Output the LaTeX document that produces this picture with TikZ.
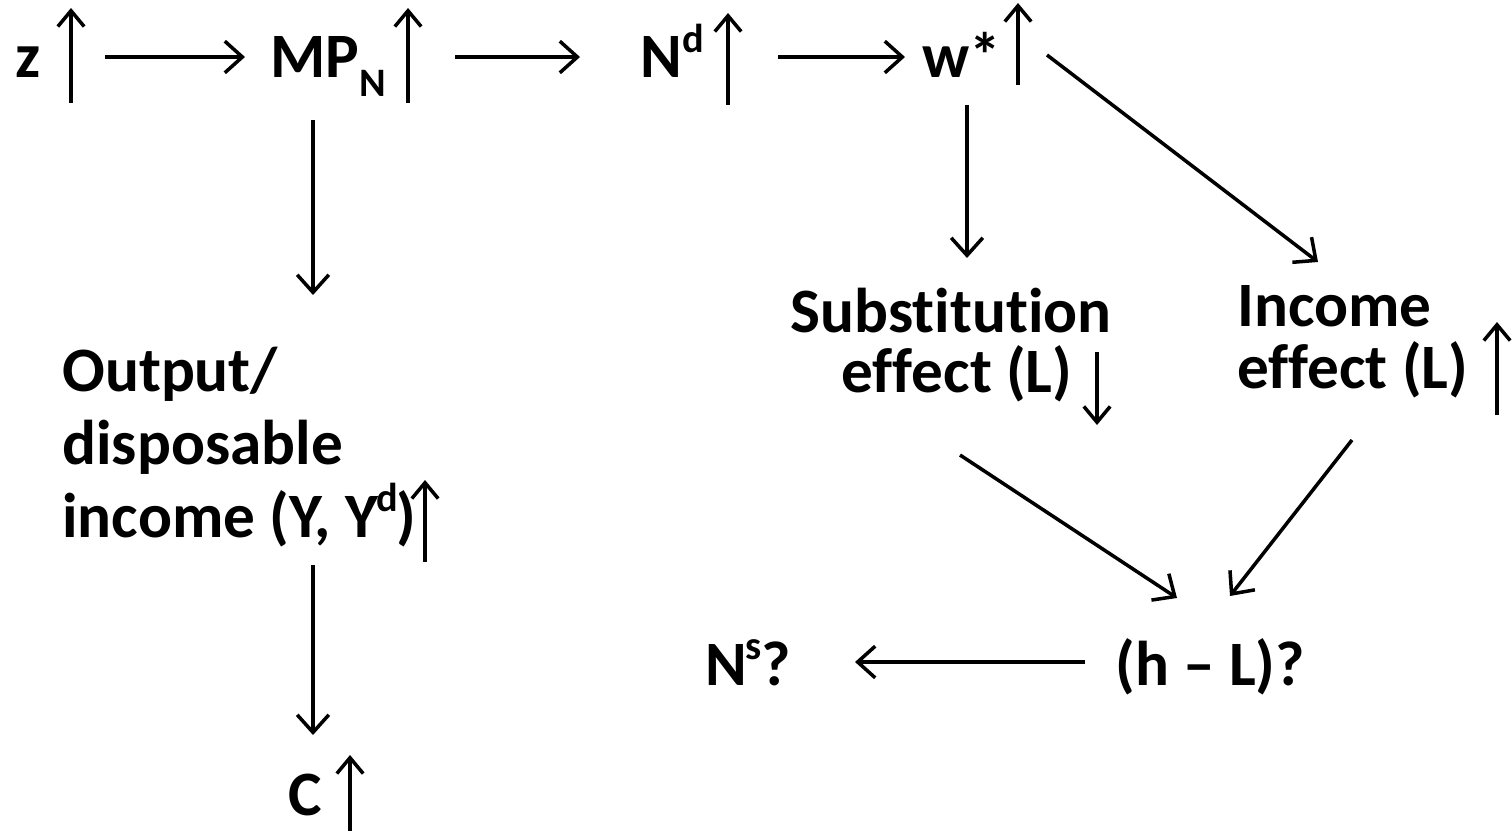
\documentclass[tikz,border=0pt]{standalone}
\usepackage{fontspec}
\setmainfont{Carlito}[Ligatures=NoCommon]
\usetikzlibrary{arrows.meta}
\newcommand\mysup[1]{\raisebox{0.4em}{\fontsize{23}{23}\selectfont #1}}
\newcommand\mysub[1]{\raisebox{-0.3em}{\fontsize{23}{23}\selectfont #1}}
\begin{document}
\begin{tikzpicture}[x=0.02cm,y=-0.02cm,
  lbl/.style={anchor=base west,inner sep=0,font=\fontsize{36}{42}\selectfont\bfseries},
  conn/.style={line width=2pt,-{Straight Barb[length=10pt,width=18pt,line width=2pt]}},
  ind/.style={line width=2pt,-{Straight Barb[length=9pt,width=15pt,line width=2pt]}}]
\useasboundingbox (0,0) rectangle (1512,831);
% text nodes
\node[lbl] (z) at (15,78) {z};
\node[lbl] (mp) at (270,78) {MP\mysub{N}};
\node[lbl] (nd) at (640,78) {N\mysup{d}};
\node[lbl] (w) at (922,78) {w*};
\node[lbl] (out1) at (62,392) {Output/};
\node[lbl] (out2) at (62,464) {disposable};
\node[lbl] (out3) at (62,537) {income (Y, Y\kern-1pt\mysup{d}\kern-1pt)};
\node[lbl] (c) at (288,815) {C};
\node[lbl,anchor=base] (sub1) at (951,333) {Substitution};
\node[lbl,anchor=base] (sub2) at (957,393) {effect (L)};
\node[lbl] (inc1) at (1237,327) {Income};
\node[lbl] (inc2) at (1237,388) {effect (L)};
\node[lbl] (ns) at (705,685) {N\kern-1pt\mysup{s}?};
\node[lbl] (hl) at (1115,685) {(h – L)?};
% indicator arrows
\coordinate (zu1) at (71,103);   \coordinate (zu2) at (71,8);
\coordinate (mpu1) at (408,103); \coordinate (mpu2) at (408,8);
\coordinate (ndu1) at (728,105); \coordinate (ndu2) at (728,13);
\coordinate (wu1) at (1018,85);  \coordinate (wu2) at (1018,3);
\coordinate (yu1) at (425,562);  \coordinate (yu2) at (425,480);
\coordinate (cu1) at (350,831);  \coordinate (cu2) at (350,755);
\coordinate (sd1) at (1097,352); \coordinate (sd2) at (1097,425);
\coordinate (iu1) at (1497,415); \coordinate (iu2) at (1497,322);
\foreach \a in {zu,mpu,ndu,wu,yu,cu,sd,iu} \draw[ind] (\a1) -- (\a2);
% connector end points
\coordinate (zR) at (105,57);   \coordinate (mpL) at (245,57);
\coordinate (mpR) at (455,57);  \coordinate (ndL) at (580,57);
\coordinate (ndR) at (778,57);  \coordinate (wL) at (905,57);
\coordinate (wB) at (967,105);  \coordinate (subT) at (967,258);
\coordinate (wR) at (1047,55);  \coordinate (incT) at (1318,262);
\coordinate (mpB) at (313,120); \coordinate (outT) at (313,295);
\coordinate (outB) at (313,565);\coordinate (cT) at (313,735);
\coordinate (subB) at (960,455);\coordinate (hlT1) at (1177,598);
\coordinate (incB) at (1352,440);\coordinate (hlT2) at (1230,596);
\coordinate (hlL) at (1085,662);\coordinate (nsR) at (855,662);
\draw[conn] (zR) -- (mpL);
\draw[conn] (mpR) -- (ndL);
\draw[conn] (ndR) -- (wL);
\draw[conn] (wB) -- (subT);
\draw[conn] (wR) -- (incT);
\draw[conn] (mpB) -- (outT);
\draw[conn] (outB) -- (cT);
\draw[conn] (subB) -- (hlT1);
\draw[conn] (incB) -- (hlT2);
\draw[conn] (hlL) -- (nsR);
\end{tikzpicture}
\end{document}
